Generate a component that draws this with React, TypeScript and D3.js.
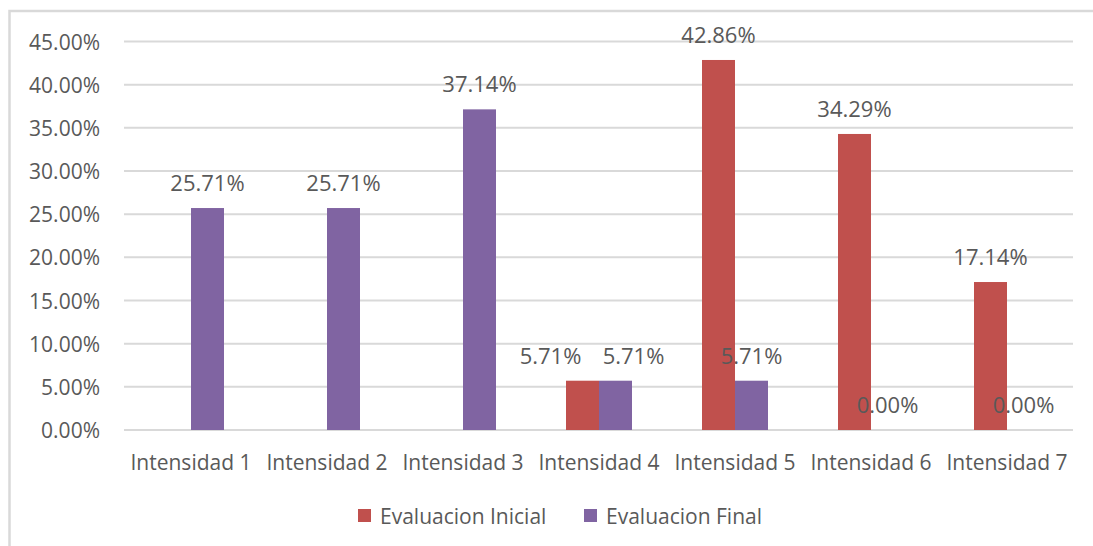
import React from "react";
import * as d3 from "d3";

const categories = [
  "Intensidad 1",
  "Intensidad 2",
  "Intensidad 3",
  "Intensidad 4",
  "Intensidad 5",
  "Intensidad 6",
  "Intensidad 7",
];
const seriesNames = ["Evaluacion Inicial", "Evaluacion Final"];
const inicial: (number | null)[] = [null, null, null, 5.71, 42.86, 34.29, 17.14];
const final: (number | null)[] = [25.71, 25.71, 37.14, 5.71, 5.71, 0.0, 0.0];
const yTicks = [0, 5, 10, 15, 20, 25, 30, 35, 40, 45];
const colors = ["#C0504D", "#8064A2"];

// labels nudged sideways where the two Intensidad 4 labels would collide
const labelNudge: Record<string, number[]> = { "Intensidad 4": [-32, 18] };

const W = 1093;
const H = 546;
const FONT = "'Open Sans', 'Noto Sans', sans-serif";
const TEXT = "#595959";
const GRID = "#D9D9D9";

export default function App() {
  const x = d3.scaleBand<string>().domain(categories).range([123, 1075]).padding(0);
  const groupW = 66;
  const x1 = d3
    .scaleBand<string>()
    .domain(seriesNames)
    .range([-groupW / 2, groupW / 2])
    .padding(0);
  const y = d3.scaleLinear().domain([0, 45]).range([430, 41.5]);
  const series = [inicial, final];
  const fmt = (v: number) => v.toFixed(2) + "%";

  return (
    <svg
      width={W}
      height={H}
      style={{ position: "absolute", left: 0, top: 0, background: "#fff" }}
      fontFamily={FONT}
    >
      <rect x={0} y={0} width={W} height={H} fill="#fff" />
      {/* chart frame (runs off the right and bottom edges) */}
      <rect x={9.5} y={11} width={W + 20} height={H + 20} fill="none" stroke={GRID} strokeWidth={2.5} />

      {/* gridlines and y tick labels */}
      {yTicks.map((t) => (
        <g key={t}>
          <line x1={124} x2={1073} y1={y(t)} y2={y(t)} stroke={GRID} strokeWidth={2} />
          <text
            x={100}
            y={y(t)}
            textAnchor="end"
            dominantBaseline="central"
            fontSize={21}
            fill={TEXT}
          >
            {t.toFixed(2) + "%"}
          </text>
        </g>
      ))}

      {/* bars */}
      {series.map((vals, si) =>
        vals.map((v, ci) =>
          v === null ? null : (
            <rect
              key={`b${si}-${ci}`}
              x={(x(categories[ci]) as number) + x.bandwidth() / 2 + (x1(seriesNames[si]) as number)}
              y={y(v)}
              width={x1.bandwidth()}
              height={y(0) - y(v)}
              fill={colors[si]}
            />
          )
        )
      )}

      {/* value labels */}
      {series.map((vals, si) =>
        vals.map((v, ci) => {
          if (v === null) return null;
          const cx =
            (x(categories[ci]) as number) +
            x.bandwidth() / 2 +
            (x1(seriesNames[si]) as number) +
            x1.bandwidth() / 2 +
            (labelNudge[categories[ci]] ? labelNudge[categories[ci]][si] : 0);
          return (
            <text
              key={`l${si}-${ci}`}
              x={cx}
              y={y(v) - 26}
              textAnchor="middle"
              dominantBaseline="central"
              fontSize={22}
              fill={TEXT}
            >
              {fmt(v)}
            </text>
          );
        })
      )}

      {/* category labels */}
      {categories.map((c) => (
        <text
          key={c}
          x={(x(c) as number) + x.bandwidth() / 2}
          y={462}
          textAnchor="middle"
          dominantBaseline="central"
          fontSize={21}
          fill={TEXT}
        >
          {c}
        </text>
      ))}

      {/* legend */}
      {seriesNames.map((s, i) => {
        const lx = [358, 584][i];
        return (
          <g key={s}>
            <rect x={lx} y={509} width={13} height={13} fill={colors[i]} />
            <text x={lx + 22} y={516} dominantBaseline="central" fontSize={21} fill={TEXT}>
              {s}
            </text>
          </g>
        );
      })}
    </svg>
  );
}
